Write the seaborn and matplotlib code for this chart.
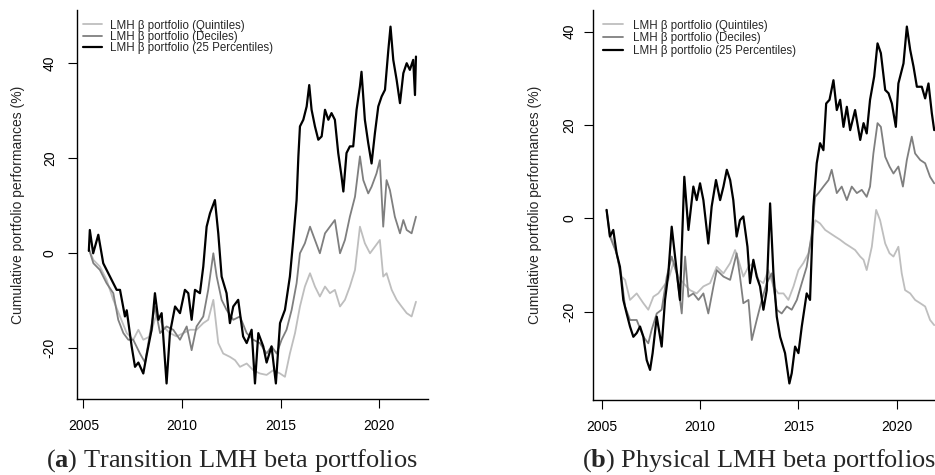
import matplotlib
matplotlib.use("Agg")
import numpy as np
import pandas as pd
import matplotlib.pyplot as plt
import seaborn as sns

# ---------------- data ----------------
series_names = ["LMH \u03b2 portfolio (Quintiles)",
                "LMH \u03b2 portfolio (Deciles)",
                "LMH \u03b2 portfolio (25 Percentiles)"]
series_colors = ["#bebebe", "#7f7f7f", "#000000"]
series_widths = [1.3, 1.3, 1.6]

year_ticks = [2005, 2010, 2015, 2020]
value_ticks = [-20, 0, 20, 40]

# Panel (a): Transition
a_quint_x = [2005.30, 2005.51, 2005.84, 2006.18, 2006.52, 2006.86, 2007.20, 2007.53, 2007.79, 2008.04,
             2008.38, 2008.72, 2009.05, 2009.39, 2009.73, 2010.07, 2010.41, 2010.74, 2011.08, 2011.33,
             2011.59, 2011.84, 2012.09, 2012.43, 2012.69, 2012.94, 2013.28, 2013.61, 2013.95, 2014.29,
             2014.63, 2014.97, 2015.22, 2015.47, 2015.73, 2015.98, 2016.23, 2016.49, 2016.74, 2016.99,
             2017.25, 2017.50, 2017.75, 2018.01, 2018.26, 2018.51, 2018.77, 2019.02, 2019.27, 2019.53,
             2019.78, 2020.03, 2020.20, 2020.37, 2020.63, 2020.88, 2021.13, 2021.39, 2021.64, 2021.86]
a_quint_y = [0.7, -1.4, -2.8, -5.6, -9.8, -13.3, -16.8, -18.2, -16.1, -18.2,
             -17.5, -12.6, -15.4, -16.8, -17.5, -16.8, -16.1, -16.1, -14.7, -14.0,
             -9.8, -18.9, -21.1, -21.8, -22.5, -23.9, -23.2, -24.6, -25.3, -25.6,
             -24.6, -25.3, -26.0, -21.1, -16.8, -11.2, -7.0, -4.2, -7.0, -9.1,
             -7.0, -8.4, -7.7, -11.2, -9.8, -7.0, -3.5, 5.6, 2.1, 0.0,
             1.4, 2.8, -4.9, -4.2, -7.7, -9.8, -11.2, -12.6, -13.3, -10.2]

a_dec_x = [2005.30, 2005.51, 2005.84, 2006.18, 2006.52, 2006.77, 2007.03, 2007.28, 2007.53, 2007.87,
           2008.13, 2008.38, 2008.63, 2008.89, 2009.22, 2009.56, 2009.90, 2010.24, 2010.49, 2010.74,
           2011.08, 2011.33, 2011.59, 2011.76, 2012.01, 2012.26, 2012.60, 2012.94, 2013.28, 2013.61,
           2013.95, 2014.29, 2014.54, 2014.80, 2015.05, 2015.30, 2015.56, 2015.81, 2015.98, 2016.23,
           2016.49, 2016.74, 2016.99, 2017.25, 2017.50, 2017.75, 2018.01, 2018.26, 2018.51, 2018.77,
           2019.02, 2019.19, 2019.44, 2019.61, 2019.86, 2020.03, 2020.20, 2020.37, 2020.54, 2020.79,
           2021.05, 2021.22, 2021.39, 2021.64, 2021.86]
a_dec_y = [0.7, -2.1, -3.5, -6.3, -8.4, -14.0, -16.8, -18.2, -18.2, -21.1,
           -23.0, -16.8, -11.2, -16.8, -15.4, -16.1, -18.2, -15.4, -20.4, -15.4,
           -13.3, -7.7, 0.0, -4.9, -9.8, -11.9, -14.0, -13.3, -16.8, -18.2,
           -18.9, -21.1, -19.6, -21.1, -18.2, -16.1, -11.9, -6.3, 0.0, 2.1,
           5.6, 2.8, 0.0, 4.2, 5.6, 7.0, 0.0, 2.8, 7.7, 11.9,
           20.4, 15.4, 12.6, 14.0, 16.8, 19.6, 5.6, 15.4, 13.3, 7.7,
           4.2, 7.0, 4.9, 4.2, 7.7]

a_p25_x = [2005.28, 2005.33, 2005.50, 2005.76, 2006.01, 2006.35, 2006.69, 2006.86, 2007.11, 2007.20,
           2007.45, 2007.62, 2007.79, 2008.04, 2008.21, 2008.46, 2008.63, 2008.80, 2008.97, 2009.22,
           2009.39, 2009.65, 2009.90, 2010.15, 2010.32, 2010.49, 2010.66, 2010.91, 2011.08, 2011.25,
           2011.42, 2011.67, 2011.84, 2012.01, 2012.26, 2012.43, 2012.60, 2012.85, 2013.10, 2013.28,
           2013.53, 2013.70, 2013.87, 2014.12, 2014.29, 2014.54, 2014.76, 2014.97, 2015.22, 2015.47,
           2015.64, 2015.81, 2015.90, 2015.98, 2016.15, 2016.32, 2016.45, 2016.57, 2016.74, 2016.91,
           2017.08, 2017.25, 2017.42, 2017.58, 2017.75, 2017.92, 2018.09, 2018.18, 2018.34, 2018.51,
           2018.68, 2018.85, 2019.02, 2019.10, 2019.27, 2019.44, 2019.61, 2019.78, 2019.95, 2020.12,
           2020.29, 2020.46, 2020.57, 2020.71, 2020.88, 2021.05, 2021.22, 2021.39, 2021.55, 2021.72,
           2021.81, 2021.86]
a_p25_y = [0.5, 4.9, 0.0, 3.9, -2.1, -4.9, -7.7, -7.7, -13.3, -12.0,
           -19.6, -23.9, -23.0, -25.3, -21.4, -16.1, -8.4, -14.0, -12.6, -27.4,
           -16.8, -11.2, -12.6, -7.7, -8.4, -14.0, -7.7, -8.4, -2.8, 5.6,
           8.4, 11.2, 4.2, -4.9, -8.4, -14.7, -11.2, -9.8, -17.5, -18.9,
           -16.1, -27.4, -16.8, -19.6, -23.0, -19.6, -27.4, -14.7, -11.9, -4.9,
           2.8, 11.2, 20.4, 26.7, 28.1, 30.9, 35.4, 30.2, 26.7, 23.9,
           24.6, 30.2, 28.1, 29.5, 28.1, 21.1, 16.1, 13.0, 21.1, 22.5,
           22.5, 30.2, 35.1, 38.2, 28.1, 23.2, 18.9, 25.3, 30.9, 33.0,
           34.4, 42.8, 47.7, 40.7, 36.5, 31.6, 37.9, 40.0, 38.6, 40.7,
           33.3, 41.4]

# Panel (b): Physical
b_quint_x = [2005.25, 2005.42, 2005.76, 2006.02, 2006.19, 2006.44, 2006.78, 2007.12, 2007.37, 2007.63,
             2007.88, 2008.14, 2008.39, 2008.64, 2008.90, 2009.15, 2009.49, 2009.83, 2010.17, 2010.51,
             2010.85, 2011.19, 2011.53, 2011.78, 2011.95, 2012.20, 2012.46, 2012.71, 2012.97, 2013.22,
             2013.47, 2013.73, 2013.98, 2014.24, 2014.49, 2014.75, 2015.00, 2015.25, 2015.51, 2015.68,
             2015.85, 2016.10, 2016.36, 2016.61, 2016.86, 2017.12, 2017.37, 2017.63, 2017.88, 2018.14,
             2018.31, 2018.47, 2018.73, 2018.95, 2019.15, 2019.41, 2019.63, 2019.83, 2020.08, 2020.25,
             2020.42, 2020.68, 2020.93, 2021.19, 2021.44, 2021.69, 2021.90]
b_quint_y = [1.8, -3.2, -7.5, -12.5, -13.2, -17.5, -16.1, -18.2, -19.6, -16.8,
             -16.1, -14.6, -13.2, -9.6, -12.5, -13.9, -15.4, -16.1, -14.6, -13.9,
             -10.4, -11.8, -9.6, -6.8, -8.9, -12.5, -10.4, -9.6, -13.2, -13.9,
             -11.1, -14.6, -16.1, -16.1, -17.5, -14.6, -11.1, -9.6, -7.5, -3.9,
             -0.4, -1.1, -2.5, -3.2, -3.9, -4.6, -5.4, -6.1, -6.8, -8.2,
             -8.9, -11.1, -6.1, 1.8, -0.4, -5.4, -7.5, -8.2, -6.1, -11.8,
             -15.4, -16.1, -17.5, -18.2, -18.9, -21.8, -22.9]

b_dec_x = [2005.25, 2005.42, 2005.76, 2006.02, 2006.19, 2006.44, 2006.78, 2007.12, 2007.37, 2007.54,
           2007.80, 2008.05, 2008.31, 2008.56, 2008.81, 2009.07, 2009.24, 2009.41, 2009.66, 2009.92,
           2010.17, 2010.42, 2010.68, 2010.85, 2011.19, 2011.53, 2011.86, 2012.03, 2012.20, 2012.46,
           2012.63, 2012.88, 2013.14, 2013.39, 2013.64, 2013.90, 2014.15, 2014.41, 2014.66, 2014.92,
           2015.17, 2015.42, 2015.68, 2015.85, 2016.02, 2016.27, 2016.53, 2016.69, 2016.95, 2017.20,
           2017.46, 2017.71, 2017.97, 2018.22, 2018.47, 2018.64, 2018.81, 2019.02, 2019.19, 2019.41,
           2019.63, 2019.83, 2020.08, 2020.31, 2020.51, 2020.76, 2020.93, 2021.19, 2021.44, 2021.69,
           2021.90]
b_dec_y = [1.8, -3.9, -7.5, -13.2, -18.9, -21.8, -21.8, -25.4, -26.8, -23.9,
           -20.4, -19.6, -12.5, -8.2, -11.8, -20.4, -8.2, -16.8, -16.1, -17.5,
           -16.1, -20.4, -14.6, -11.1, -12.5, -13.2, -7.5, -12.5, -18.2, -17.5,
           -26.1, -21.8, -17.5, -13.9, -11.8, -19.6, -20.4, -18.9, -19.6, -17.5,
           -13.9, -10.4, -3.2, 4.6, 5.4, 6.8, 8.2, 10.4, 5.4, 6.8,
           3.9, 6.8, 5.4, 6.1, 4.6, 6.8, 13.9, 20.4, 19.6, 13.2,
           11.1, 9.6, 11.1, 6.8, 12.5, 17.5, 13.9, 12.5, 11.8, 8.9,
           7.5]

b_p25_x = [2005.25, 2005.42, 2005.59, 2005.76, 2005.93, 2006.10, 2006.27, 2006.44, 2006.61, 2006.78,
           2006.95, 2007.12, 2007.29, 2007.46, 2007.59, 2007.80, 2008.05, 2008.22, 2008.39, 2008.56,
           2008.73, 2008.98, 2009.20, 2009.41, 2009.66, 2009.83, 2010.00, 2010.17, 2010.42, 2010.59,
           2010.81, 2011.02, 2011.19, 2011.36, 2011.53, 2011.69, 2011.86, 2012.03, 2012.20, 2012.41,
           2012.54, 2012.71, 2012.88, 2013.05, 2013.22, 2013.39, 2013.56, 2013.73, 2013.90, 2014.07,
           2014.32, 2014.54, 2014.66, 2014.83, 2015.00, 2015.17, 2015.42, 2015.59, 2015.76, 2015.93,
           2016.10, 2016.27, 2016.41, 2016.58, 2016.78, 2016.95, 2017.12, 2017.29, 2017.46, 2017.63,
           2017.88, 2018.14, 2018.31, 2018.47, 2018.64, 2018.85, 2019.02, 2019.19, 2019.41, 2019.58,
           2019.75, 2019.95, 2020.08, 2020.34, 2020.51, 2020.68, 2020.85, 2021.02, 2021.27, 2021.44,
           2021.61, 2021.78, 2021.90]
b_p25_y = [1.8, -3.9, -2.5, -7.5, -10.4, -17.5, -20.4, -23.2, -25.4, -24.6,
           -23.2, -25.4, -30.4, -32.5, -28.9, -21.1, -27.5, -17.5, -11.8, -1.8,
           -8.2, -17.5, 8.9, -2.5, 6.8, 3.9, 7.5, 3.9, -5.4, 2.5,
           8.2, 3.9, 6.8, 10.4, 8.2, 3.9, -3.9, -0.4, 0.4, -6.1,
           -13.9, -8.9, -12.5, -14.6, -19.6, -15.4, 3.2, -11.8, -21.1, -25.4,
           -28.9, -35.4, -33.2, -27.5, -28.9, -23.2, -16.1, -17.5, 2.5, 11.8,
           16.1, 14.6, 24.6, 25.4, 29.6, 23.2, 25.4, 19.6, 23.9, 18.9,
           23.2, 16.8, 20.4, 18.2, 25.4, 30.4, 37.5, 35.4, 27.5, 26.8,
           24.6, 19.6, 28.9, 33.2, 41.1, 36.1, 32.5, 28.2, 28.2, 25.7,
           28.9, 22.5, 18.9]

panel_a = [(a_quint_x, a_quint_y), (a_dec_x, a_dec_y), (a_p25_x, a_p25_y)]
panel_b = [(b_quint_x, b_quint_y), (b_dec_x, b_dec_y), (b_p25_x, b_p25_y)]

ylabel_text = "Cumulative portfolio performances (%)"
caption_a = r"($\mathbf{a}$) Transition LMH beta portfolios"
caption_b = r"($\mathbf{b}$) Physical LMH beta portfolios"

# ---------------- styling ----------------
sns.set_theme(style="white")
plt.rcParams["font.family"] = ["Liberation Sans", "DejaVu Sans"]
plt.rcParams["mathtext.fontset"] = "custom"
plt.rcParams["mathtext.rm"] = "Liberation Serif"
plt.rcParams["mathtext.bf"] = "Liberation Serif:bold"

W, H = 935, 475
fig = plt.figure(figsize=(W / 100, H / 100), dpi=100)


def px_axes(l, t, r, b):
    return fig.add_axes([l / W, 1 - b / H, (r - l) / W, (b - t) / H])


axA = px_axes(77, 10, 428, 399)
axB = px_axes(593, 10, 946, 400)

configs = [
    dict(ax=axA, data=panel_a, xlim=(2004.68, 2022.47), ylim=(-30.67, 51.2),
         ylab_x=(18 - 77) / 351, ypad=8.0,
         leg_x=83, leg_y=19.5, hl=1.65, htp=0.7, ls=-0.05),
    dict(ax=axB, data=panel_b, xlim=(2004.56, 2022.50), ylim=(-38.95, 44.65),
         ylab_x=(535 - 593) / 353, ypad=5.5,
         leg_x=603, leg_y=19.5, hl=1.74, htp=0.87, ls=0.05),
]

for cfg in configs:
    ax = cfg["ax"]
    for (xs, ys), name, col, lw in zip(cfg["data"], series_names, series_colors, series_widths):
        df = pd.DataFrame({"year": xs, "value": ys})
        sns.lineplot(data=df, x="year", y="value", ax=ax, color=col, lw=lw,
                     label=name, estimator=None, sort=False)
    ax.set_xlim(*cfg["xlim"])
    ax.set_ylim(*cfg["ylim"])
    ax.set_xticks(year_ticks)
    ax.set_xticklabels([str(y) for y in year_ticks])
    ax.set_yticks(value_ticks)
    ax.set_yticklabels([str(v) for v in value_ticks], rotation=90, va="center")
    ax.set_xlabel("")
    ax.set_ylabel(ylabel_text, fontsize=10)
    ax.yaxis.label.set_va("center")
    ax.yaxis.set_label_coords(cfg["ylab_x"], 0.5)
    ax.tick_params(axis="both", which="major", bottom=True, left=True, direction="out",
                   length=6.5, width=0.8, color="black", labelsize=10, labelcolor="black")
    ax.tick_params(axis="x", pad=8)
    ax.tick_params(axis="y", pad=cfg["ypad"])
    for s in ["top", "right"]:
        ax.spines[s].set_visible(False)
    for s in ["left", "bottom"]:
        ax.spines[s].set_color("black")
        ax.spines[s].set_linewidth(1.0)
    ax.grid(False)
    ax.legend(loc="upper left", bbox_to_anchor=(cfg["leg_x"] / W, 1 - cfg["leg_y"] / H),
              bbox_transform=fig.transFigure, frameon=False, fontsize=8.3,
              borderpad=0, borderaxespad=0, handlelength=cfg["hl"],
              handletextpad=cfg["htp"], labelspacing=cfg["ls"])

fig.text(232 / W, 1 - 466.7 / H, caption_a, ha="center", va="baseline",
         fontsize=19, family="Liberation Serif")
fig.text(759 / W, 1 - 466.7 / H, caption_b, ha="center", va="baseline",
         fontsize=19, family="Liberation Serif")

fig.savefig("out.png", dpi=100)
